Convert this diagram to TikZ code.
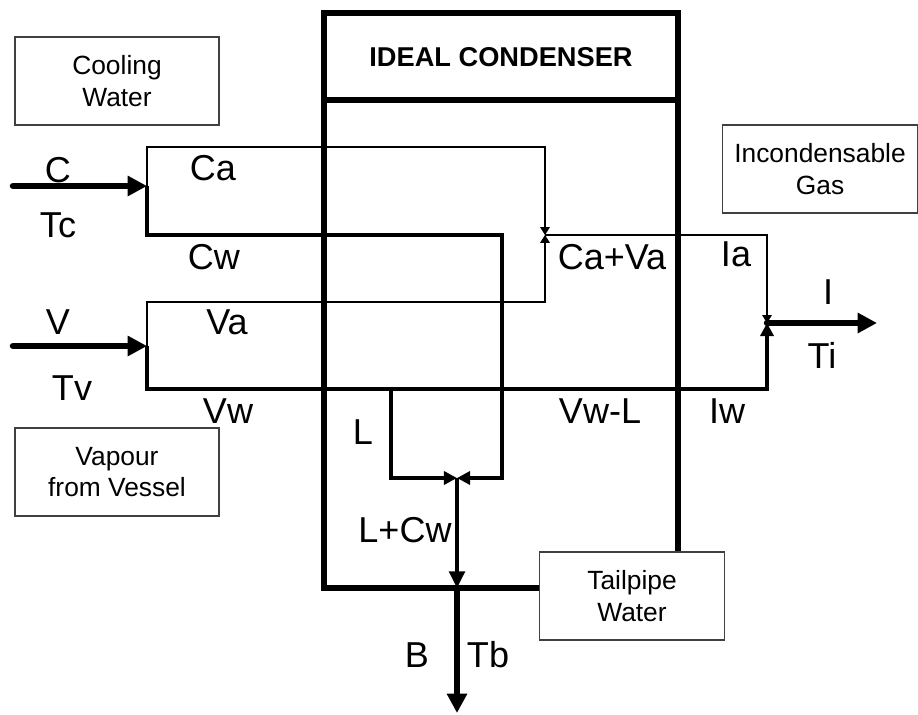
\documentclass[tikz,border=0pt]{standalone}
\usepackage{fontspec}
\setmainfont{Liberation Sans}
\usetikzlibrary{arrows.meta}
\begin{document}
\begin{tikzpicture}[x=0.02cm, y=-0.02cm]
        \tikzstyle{lbl}=[inner sep=0pt, font=\fontsize{20.5}{24}\selectfont];
        \tikzstyle{note}=[draw=black!75, fill=white, line width=0.6pt, align=center, minimum width=4.08cm, minimum height=1.76cm, font=\fontsize{15}{18}\selectfont];
        \tikzstyle{feed}=[line width=3.7pt, line cap=round, -{Triangle[length=11pt, width=11pt]}];
        \tikzstyle{stream}=[line width=1.9pt, -{Triangle[length=7.5pt, width=7.5pt]}];
        \tikzstyle{trace}=[line width=0.6pt, -{Triangle[length=4.5pt, width=5.5pt]}];

        \useasboundingbox (0,0) rectangle (918,715);

        % condenser body and header
        \node[draw, line width=3.8pt, inner sep=0pt, outer sep=0pt, minimum width=7.08cm, minimum height=11.5cm] (cond) at (501,300.5) {};
        \node[font=\bfseries\fontsize{15.5}{18}\selectfont] (title) at (501,57) {IDEAL CONDENSER};
        \draw[line width=3.8pt] (cond.west |- 0,100) -- (cond.east |- 0,100);

        % side notes
        \node[note] (cooling) at (117,81) {Cooling\\Water};
        \node[note] (vapour) at (117,472) {Vapour\\from Vessel};
        \node[note, minimum width=3.9cm] (gas) at (820,169) {Incondensable\\Gas};
        \node[note, minimum width=3.7cm] (tail) at (632,596) {Tailpipe\\Water};

        % junctions
        \coordinate (Cin) at (13,186);
        \coordinate (jC) at (147,186);
        \coordinate (Vin) at (13,346);
        \coordinate (jV) at (147,346);
        \coordinate (jA) at (545,235);
        \coordinate (jI) at (767,323);
        \coordinate (Iout) at (877,323);
        \coordinate (jL) at (457,478);
        \coordinate (jLs) at (391,389);
        \coordinate (jB) at (jL |- cond.south);
        \coordinate (Bout) at (457,713);

        % streams
        \draw[feed] (Cin) -- (jC);
        \draw[feed] (Vin) -- (jV);
        \draw[trace] (jC) |- (545,147) -- (jA);
        \draw[trace] (jV) |- (545,302) -- (jA);
        \draw[trace] (jA) -| (jI);
        \draw[stream] (jC) |- (502,235) |- (jL);
        \draw[stream] (jV) |- (767,389) -- (jI);
        \draw[stream] (jLs) |- (jL);
        \draw[stream, -{Triangle[length=9.5pt, width=9pt]}] (jL) -- (jB);
        \draw[feed] (jI) -- (Iout);
        \draw[feed] (jB) -- (Bout);

        % labels
        \node[lbl] (lC) at (58,170) {C};
        \node[lbl] (lTc) at (58,225) {Tc};
        \node[lbl] (lCa) at (213,168) {Ca};
        \node[lbl] (lCw) at (214,257) {Cw};
        \node[lbl] (lV) at (58,322) {V};
        \node[lbl] (lTv) at (72,388) {Tv};
        \node[lbl] (lVa) at (227,322) {Va};
        \node[lbl] (lVw) at (228,411) {Vw};
        \node[lbl] (lCaVa) at (612,257) {Ca+Va};
        \node[lbl] (lIa) at (736,254) {Ia};
        \node[lbl] (lI) at (828,292) {I};
        \node[lbl] (lTi) at (822,355) {Ti};
        \node[lbl] (lL) at (363,432) {L};
        \node[lbl] (lVwL) at (600,411) {Vw-L};
        \node[lbl] (lIw) at (727,411) {Iw};
        \node[lbl] (lLCw) at (405,530) {L+Cw};
        \node[lbl] (lB) at (417,655) {B};
        \node[lbl] (lTb) at (488,655) {Tb};
    \end{tikzpicture}
\end{document}
